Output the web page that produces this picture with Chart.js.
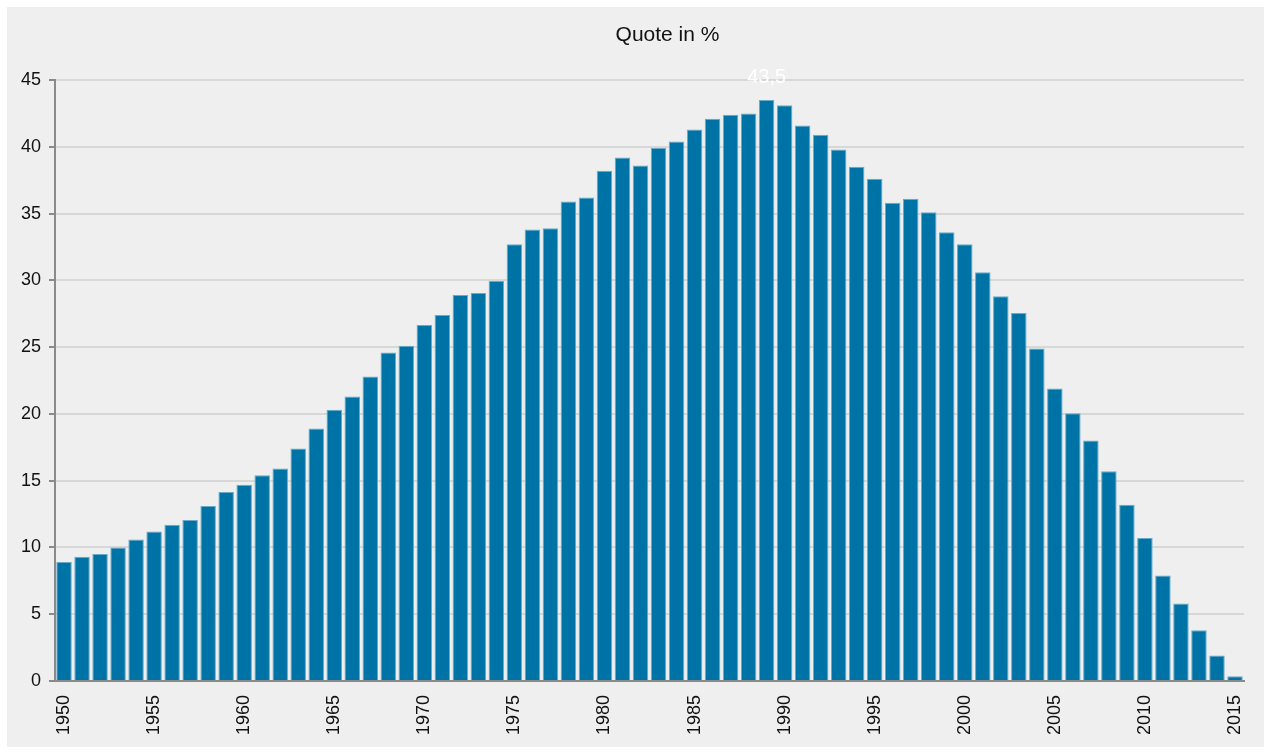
<!DOCTYPE html>
<html>
<head>
<meta charset="utf-8">
<script src="https://cdn.jsdelivr.net/npm/chart.js@4"></script>
<style>
    html, body { margin: 0; padding: 0; background: #ffffff; }
    #wrap {
        position: absolute;
        left: 7px; top: 7px;
        width: 1257px; height: 740px;
        background: #eeefee;
    }
</style>
</head>
<body>
<div id="wrap"><canvas id="quote-chart"></canvas></div>
<script>
// Data
const years = [];
for (let y = 1950; y <= 2015; y++) years.push(String(y));

const quoteValues = [
    8.9, 9.3, 9.5, 10.0, 10.6, 11.2, 11.7, 12.05, 13.1, 14.15,
    14.7, 15.4, 15.9, 17.4, 18.9, 20.3, 21.3, 22.8, 24.6, 25.1,
    26.65, 27.4, 28.9, 29.05, 29.95, 32.7, 33.8, 33.9, 35.9, 36.2,
    38.2, 39.2, 38.6, 39.9, 40.4, 41.3, 42.1, 42.4, 42.5, 43.5,
    43.1, 41.6, 40.9, 39.8, 38.5, 37.6, 35.8, 36.1, 35.1, 33.6,
    32.7, 30.6, 28.8, 27.55, 24.9, 21.9, 20.05, 18.0, 15.7, 13.2,
    10.7, 7.9, 5.8, 3.8, 1.9, 0.35,
];

const yTicks = [0, 5, 10, 15, 20, 25, 30, 35, 40, 45];

const chartTitle = "Quote in %";

const COLORS = {
    bar: "#0073a6",
    barEdge: "#6aa9c8",
    grid: "#d6d8d7",
    axis: "#8a8a8a",
    text: "#111111",
};

// title sits a bit right of the plot centre, like the original
const titlePlugin = {
    id: "offsetTitle",
    afterDraw(chart) {
        const { ctx, chartArea } = chart;
        ctx.save();
        ctx.fillStyle = COLORS.text;
        ctx.font = "21px 'Liberation Sans', Arial, sans-serif";
        ctx.textAlign = "center";
        ctx.textBaseline = "middle";
        ctx.fillText(chartTitle, (chartArea.left + chartArea.right) / 2 + 18, 28);
        ctx.restore();
    },
};

// label only the maximum value, in white above its bar
const maxLabelPlugin = {
    id: "maxLabel",
    afterDatasetsDraw(chart) {
        const data = chart.data.datasets[0].data;
        const idx = data.indexOf(Math.max(...data));
        const bar = chart.getDatasetMeta(0).data[idx];
        const ctx = chart.ctx;
        ctx.save();
        ctx.fillStyle = "#ffffff";
        ctx.font = "20px 'Liberation Sans', Arial, sans-serif";
        ctx.textAlign = "center";
        ctx.textBaseline = "alphabetic";
        ctx.fillText(String(data[idx]).replace(".", ","), bar.x, bar.y - 17);
        ctx.restore();
    },
};

Chart.defaults.font.family = "'Liberation Sans', Arial, sans-serif";
Chart.defaults.color = COLORS.text;

new Chart(document.getElementById("quote-chart"), {
    type: "bar",
    data: {
        labels: years,
        datasets: [{
            data: quoteValues,
            backgroundColor: COLORS.bar,
            borderColor: COLORS.barEdge,
            borderWidth: 1,
            borderSkipped: "bottom",
            barPercentage: 0.86,
            categoryPercentage: 1.0,
        }],
    },
    options: {
        responsive: true,
        maintainAspectRatio: false,
        animation: false,
        layout: { padding: { left: 6, right: 20, top: 73, bottom: 6 } },
        plugins: {
            legend: { display: false },
            tooltip: { enabled: false },
            title: { display: false },
        },
        scales: {
            x: {
                grid: { display: false },
                border: { display: true, color: COLORS.axis, width: 2 },
                ticks: {
                    autoSkip: false,
                    maxRotation: 90,
                    minRotation: 90,
                    padding: 6,
                    font: { size: 18 },
                    callback(value, index) {
                        const y = Number(years[index]);
                        return y % 5 === 0 ? years[index] : "";
                    },
                },
            },
            y: {
                min: 0,
                max: 45,
                afterBuildTicks(scale) {
                    scale.ticks = yTicks.map((v) => ({ value: v }));
                },
                grid: {
                    color: COLORS.grid,
                    lineWidth: 2,
                    tickLength: 6,
                    tickColor: COLORS.axis,
                },
                border: { display: true, color: COLORS.axis, width: 2 },
                ticks: {
                    padding: 8,
                    font: { size: 18 },
                },
            },
        },
    },
    plugins: [maxLabelPlugin, titlePlugin],
});
</script>
</body>
</html>
